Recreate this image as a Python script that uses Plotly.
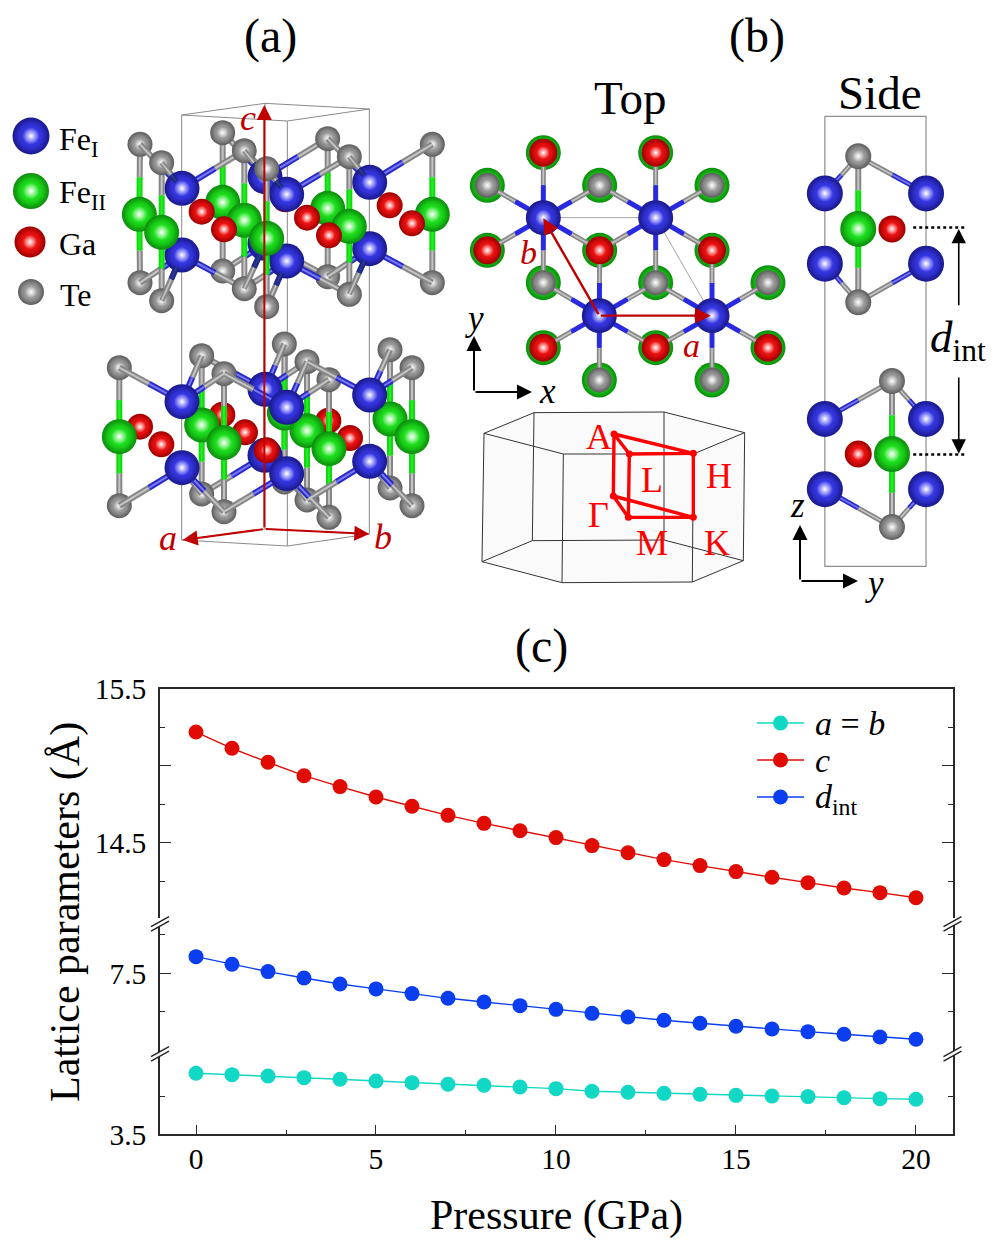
import plotly.graph_objects as go
from collections import defaultdict

W, H = 997, 1247
SERIF = "Liberation Serif"

# ---------- chart data ----------
pressure = list(range(21))
c_param = [15.22, 15.114, 15.023, 14.936, 14.865, 14.797, 14.737, 14.678, 14.626, 14.578, 14.533,
           14.481, 14.435, 14.39, 14.351, 14.312, 14.275, 14.24, 14.205, 14.175, 14.142]
d_int = [7.716, 7.617, 7.522, 7.439, 7.361, 7.297, 7.236, 7.175, 7.128, 7.08, 7.032,
         6.98, 6.933, 6.89, 6.851, 6.812, 6.777, 6.742, 6.708, 6.673, 6.643]
a_param = [4.303, 4.285, 4.268, 4.246, 4.224, 4.202, 4.18, 4.158, 4.145, 4.123, 4.101,
           4.066, 4.053, 4.039, 4.026, 4.013, 4.004, 3.996, 3.982, 3.969, 3.961]

# ---------- panel (a) structure, positions read in a 3x crop ----------
up_te_top = [(420,163),(668,128),(983,146),(1297,163),(485,218),(733,182),(1048,200),(800,236)]
up_te_bot = [(420,578),(668,543),(983,560),(1297,578),(485,632),(733,596),(1048,613),(800,650)]
up_fe2 = [(418,373),(668,337),(983,355),(1297,373),(485,427),(733,391),(1048,409),(800,445)]
up_fe1_top = [(795,260),(546,295),(860,313),(1109,277)]
up_fe1_bot = [(795,460),(546,495),(860,513),(1109,476)]
up_ga_back = [(855,328),(605,365),(921,383),(1169,346)]
up_ga_front = [(672,418),(987,436),(1236,400)]

lo_te_top = [(853,762),(358,833),(605,797),(921,815),(1170,779),(672,851),(987,869),(1236,833)]
lo_te_bot = [(853,1176),(358,1247),(605,1212),(921,1230),(1170,1194),(672,1265),(987,1282),(1236,1247)]
lo_fe2 = [(853,969),(358,1040),(605,1005),(921,1022),(1170,987),(672,1058),(987,1076),(1236,1040)]
lo_fe1_top = [(795,898),(546,935),(860,952),(1109,915)]
lo_fe1_bot = [(795,1096),(546,1133),(860,1151),(1109,1114)]
lo_ga_back = [(420,1010),(667,974),(985,992)]
lo_ga_front = [(484,1063),(735,1027),(1050,1044),(800,1081)]

cell_top = [(545,75),(795,40),(1108,57),(862,93)]
cell_bot = [(545,1350),(795,1317),(1108,1332),(862,1368)]

# ---------- panel (b) top view ----------
top_fe = [(280,443),(617,443),(448,737),(786,737)]
top_ga = [(280,248),(617,248),(112,541),(449,541),(786,541),(280,833),(617,833),(954,833)]
top_te = [(112,346),(449,346),(786,346),(280,638),(617,638),(954,638),(448,930),(786,930)]

# ---------- panel (b) side view ----------
side_fe = [(133,365),(433,365),(133,573),(433,573),(133,1032),(433,1032),(133,1240),(433,1240)]
side_fe2 = [(232,470),(332,1136)]
side_ga = [(332,470),(232,1136)]
side_te = [(232,255),(232,687),(332,920),(332,1352)]

# ---------- Brillouin zone ----------
bz_top = [(72,100),(222,38),(612,36),(854,98),(700,162),(310,162)]
bz_bot = [(66,485),(217,422),(612,420),(850,482),(697,546),(306,548)]
bz_pts = {"A":(462,102),"L":(508,162),"H":(700,160),"K":(700,352),"M":(505,352),"G":(460,288)}
bz_path = ["A","L","H","A","G","M","K","G"]
bz_path2 = [("K","H"),("L","M")]

# ---------- helpers ----------
def pa(p): return (p[0]/3, 90+p[1]/3)
def pt(p): return (450+p[0]/3, 70+p[1]/3)
def pz(p): return (460+p[0]/3, 400+p[1]/3)
def ps(p): return (780+p[0]/2.965, 70+p[1]/2.958)

SPH = {
 "fe1": ("#1a1a90", "#3a3aee"),
 "fe2": ("#0c900c", "#1fe81f"),
 "ga":  ("#a00000", "#f41414"),
 "te":  ("#606060", "#a2a2a2"),
}
SIZE = {"fe1":35, "fe2":35, "ga":26, "te":25}
GRAY=("#868686","#c4c4c4"); BLUE=("#2a2ac8","#7a7af0"); GREEN=("#12d812","#22ee22"); DARK=("#1c2a78","#2c3a98")

levels = defaultdict(lambda: {"lines":defaultdict(lambda: ([],[])), "atoms":defaultdict(list)})

def seg(level, p, q, pair, w=6):
    lv = levels[level]["lines"]
    for key in ((pair[0], w), (pair[1], max(1.6,w/3))):
        lv[key][0].extend([p[0],q[0],None])
        lv[key][1].extend([p[1],q[1],None])

def bond(level, te, fe, pair, frac=0.47, w=6):
    mx, my = te[0]+(fe[0]-te[0])*frac, te[1]+(fe[1]-te[1])*frac
    seg(level, te, (mx,my), GRAY, w)
    seg(level, (mx,my), fe, pair, w)

def atoms(level, kind, pts, size=None):
    s = size or SIZE[kind]
    levels[level]["atoms"][(kind,s)].extend(pts)

def connect(level, fes, tes, offsets, conv, tol=15):
    for f in fes:
        for t in tes:
            d=(t[0]-f[0], t[1]-f[1])
            if any(abs(d[0]-o[0])<tol and abs(d[1]-o[1])<tol for o in offsets):
                bond(level, conv(t), conv(f), BLUE)

def stub(level, fes, tes, off, conv, reach=0.74, tol=15):
    for f in fes:
        for t in tes:
            if abs(t[0]-f[0]-off[0])<tol and abs(t[1]-f[1]-off[1])<tol:
                T=conv(t); F=conv(f)
                m=(T[0]+(F[0]-T[0])*0.47, T[1]+(F[1]-T[1])*0.47)
                e=(T[0]+(F[0]-T[0])*reach, T[1]+(F[1]-T[1])*reach)
                seg(level,T,m,GRAY,5); seg(level,m,e,DARK,5)

def column(level, xs, te_a, te_b, fe2, conv):
    for xval in xs:
        t=[p for p in te_a if abs(p[0]-xval)<5][0]
        b=[p for p in te_b if abs(p[0]-xval)<5][0]
        g=[p for p in fe2 if abs(p[0]-xval)<5][0]
        bond(level, conv(t), conv(g), GREEN, 0.47, 6)
        bond(level, conv(b), conv(g), GREEN, 0.47, 6)
        atoms(level+0.1,"fe2",[conv(g)])
        atoms(level+0.1,"te",[conv(t),conv(b)])

# --- panel (a) upper block ---
U_TOP=[(-126,-132),(-61,-77),(187,-113)]
U_BOT=[(-126,83),(-61,137),(187,101)]
atoms(1.0,"ga",[pa(up_ga_back[0])])
connect(0.9,up_fe1_top[:1],up_te_top,U_TOP,pa); connect(0.9,up_fe1_bot[:1],up_te_bot,U_BOT,pa)
atoms(1.2,"fe1",[pa(up_fe1_top[0]),pa(up_fe1_bot[0])])
column(2,[418,668,983,1297],up_te_top,up_te_bot,up_fe2,pa)
atoms(3,"ga",[pa(p) for p in up_ga_back[1:]])
connect(3.5,up_fe1_top[1:],up_te_top,U_TOP,pa); connect(3.5,up_fe1_bot[1:],up_te_bot,U_BOT,pa)
atoms(4,"fe1",[pa(p) for p in up_fe1_top[1:]+up_fe1_bot[1:]])
column(5,[485,733,1048],up_te_top,up_te_bot,up_fe2,pa)
atoms(6,"ga",[pa(p) for p in up_ga_front])
stub(6.5,up_fe1_top,up_te_top,(-61,-77),pa)
stub(6.5,up_fe1_bot,up_te_bot,(-61,137),pa)
column(7,[800],up_te_top,up_te_bot,up_fe2,pa)

# --- panel (a) lower block ---
L_TOP=[(-188,-102),(59,-138),(126,-84)]
L_BOT=[(-188,114),(59,79),(126,132)]
column(10,[853],lo_te_top,lo_te_bot,lo_fe2,pa)
connect(10.5,lo_fe1_top[:1],lo_te_top,L_TOP,pa); connect(10.5,lo_fe1_bot[:1],lo_te_bot,L_BOT,pa)
atoms(10.7,"fe1",[pa(lo_fe1_top[0]),pa(lo_fe1_bot[0])])
atoms(11,"ga",[pa(p) for p in lo_ga_back])
atoms(11.2,"ga",[pa(p) for p in lo_ga_front])
column(12,[358,605,921,1170],lo_te_top,lo_te_bot,lo_fe2,pa)
column(13,[672,987,1236],lo_te_top,lo_te_bot,lo_fe2,pa)
connect(14,lo_fe1_top[1:],lo_te_top,L_TOP,pa); connect(14,lo_fe1_bot[1:],lo_te_bot,L_BOT,pa)
atoms(15,"fe1",[pa(p) for p in lo_fe1_top[1:]+lo_fe1_bot[1:]])

# --- panel (b) top view ---
atoms(20,"fe2",[pt(p) for p in top_ga+top_te])
for f in top_fe:
    for t in top_ga+top_te:
        d=((t[0]-f[0])**2+(t[1]-f[1])**2)**0.5
        if 170<d<215:
            bond(21,pt(t),pt(f),("#2a2ae0","#2a2ae0"),0.5,5)
atoms(22,"ga",[pt(p) for p in top_ga],28)
atoms(22,"te",[pt(p) for p in top_te],25)
atoms(23,"fe1",[pt(p) for p in top_fe])

# --- panel (b) side view ---
bond(30,ps(side_te[0]),ps(side_fe2[0]),GREEN,0.47); bond(30,ps(side_te[1]),ps(side_fe2[0]),GREEN,0.47)
bond(30,ps(side_te[2]),ps(side_fe2[1]),GREEN,0.47); bond(30,ps(side_te[3]),ps(side_fe2[1]),GREEN,0.47)
for ti,fis in [(0,(0,1)),(1,(2,3)),(2,(4,5)),(3,(6,7))]:
    for fi in fis:
        bond(30,ps(side_te[ti]),ps(side_fe[fi]),BLUE,0.5,5)
atoms(31,"fe1",[ps(p) for p in side_fe],36)
atoms(31,"fe2",[ps(p) for p in side_fe2],36)
atoms(31,"ga",[ps(p) for p in side_ga],27)
atoms(31,"te",[ps(p) for p in side_te],26)

# --- legend of atoms ---
atoms(40,"fe1",[(31,136)],37); atoms(40,"fe2",[(31,191)],36); atoms(40,"ga",[(30,242)],31); atoms(40,"te",[(31,292)],26)

# ---------- figure ----------
fig = go.Figure()
X_DOM=[160/W,952.7/W]
def yd(t,b): return [1-b/H,1-t/H]

def ov_line(xs,ys,color,width,dash=None,fill=None,fillcolor=None,name=None):
    fig.add_trace(go.Scatter(x=xs,y=ys,mode="lines",line=dict(color=color,width=width,dash=dash,simplify=False),
        xaxis="x4",yaxis="y4",hoverinfo="skip",showlegend=False,fill=fill,fillcolor=fillcolor,name=name))

# chart traces
for ya,xa,vals,col,nm in [("y","x",c_param,"#e00c04","c"),("y2","x2",d_int,"#0a3ef0","d_int"),("y3","x3",a_param,"#10d8c4","a = b")]:
    fig.add_trace(go.Scatter(x=pressure,y=vals,mode="lines+markers",name=nm,showlegend=False,xaxis=xa,yaxis=ya,
        line=dict(color=col,width=1.4),marker=dict(color=col,size=15,line=dict(width=0))))

# cell of panel (a)
ct=[pa(p) for p in cell_top]; cb=[pa(p) for p in cell_bot]
cx=[];cy=[]
for loop in (ct,cb):
    for p in loop+[loop[0]]:
        cx.append(p[0]);cy.append(p[1])
    cx.append(None);cy.append(None)
for a,b in zip(ct,cb):
    cx+= [a[0],b[0],None]; cy+=[a[1],b[1],None]
ov_line(cx,cy,"#8a8a8a",1)

# BZ
zt=[pz(p) for p in bz_top]; zb=[pz(p) for p in bz_bot]
outer=[zt[0],zt[1],zt[2],zt[3],zb[3],zb[4],zb[5],zb[0],zt[0]]
ov_line([p[0] for p in outer],[p[1] for p in outer],"rgba(0,0,0,0)",0,fill="toself",fillcolor="#fafafa")
zx=[];zy=[]
for loop in (zt,zb):
    for p in loop+[loop[0]]:
        zx.append(p[0]);zy.append(p[1])
    zx.append(None);zy.append(None)
for a,b in zip(zt,zb):
    zx+=[a[0],b[0],None];zy+=[a[1],b[1],None]
ov_line(zx,zy,"#333333",1)
rx=[pz(bz_pts[k])[0] for k in bz_path]; ry=[pz(bz_pts[k])[1] for k in bz_path]
for a,b in bz_path2:
    rx+=[None,pz(bz_pts[a])[0],pz(bz_pts[b])[0]]; ry+=[None,pz(bz_pts[a])[1],pz(bz_pts[b])[1]]
ov_line(rx,ry,"#ff0000",3.4)
fig.add_trace(go.Scatter(x=[pz(v)[0] for v in bz_pts.values()],y=[pz(v)[1] for v in bz_pts.values()],mode="markers",
    marker=dict(color="#ff0000",size=7),xaxis="x4",yaxis="y4",hoverinfo="skip",showlegend=False))

# side cell rectangle
sc=[ps(p) for p in [(133,137),(433,137),(433,1468),(133,1468),(133,137)]]
ov_line([p[0] for p in sc],[p[1] for p in sc],"#8e8e8e",1.2)
# top view cell
tc=[pt(p) for p in [(280,443),(617,443),(786,737)]]
ov_line([p[0] for p in tc],[p[1] for p in tc],"#8e8e8e",0.8)

# atoms and bonds
def rgba0(h): return f"rgba({int(h[1:3],16)},{int(h[3:5],16)},{int(h[5:7],16)},0)"
for lv in sorted(levels):
    for (col,w),(xs,ys) in levels[lv]["lines"].items():
        ov_line(xs,ys,col,w)
    for (kind,s),pts in levels[lv]["atoms"].items():
        edge,mid=SPH[kind]
        X=[p[0] for p in pts];Y=[p[1] for p in pts]
        for size,c,g in [(s,edge,mid),(s*0.94,rgba0(mid),mid),(s*0.8,rgba0(mid),mid),(s*0.46,"rgba(255,255,255,0)","#ffffff")]:
            fig.add_trace(go.Scatter(x=X,y=Y,mode="markers",xaxis="x4",yaxis="y4",hoverinfo="skip",showlegend=False,
                marker=dict(size=size,color=c,gradient=dict(type="radial",color=g),line=dict(width=0))))

# dotted lines in side view
for yy in (466,1137):
    a=ps((395,yy));b=ps((555,yy))
    ov_line([a[0],b[0]],[a[1],b[1]],"#000000",2.5,dash="3px,3px")

# chart legend drawn inside the plot
leg_y=[723,760,797]; leg_col=["#10d8c4","#e00c04","#0a3ef0"]
for yy,col in zip(leg_y,leg_col):
    ov_line([757,804],[yy,yy],col,1.4)
    fig.add_trace(go.Scatter(x=[780.5],y=[yy],mode="markers",marker=dict(color=col,size=15),xaxis="x4",yaxis="y4",hoverinfo="skip",showlegend=False))

# axis breaks
for bx0,bx1 in [(151,169),(943.5,961.5)]:
    for yb in (926.7,1056.7):
        ov_line([bx0,bx1],[yb+2.2,yb-7.8],"#ffffff",4)
        ov_line([bx0,bx1],[yb,yb-10],"#222222",1.4)
        ov_line([bx0,bx1],[yb+4.4,yb-5.6],"#222222",1.4)

ann=[]
def text(x,y,t,size,color="#000000",anchor="center",angle=0,ya="middle"):
    ann.append(dict(x=x,y=y,xref="x4",yref="y4",text=t,showarrow=False,xanchor=anchor,yanchor=ya,textangle=angle,
                    font=dict(family=SERIF,size=size,color=color)))
def arrow(p,q,color,w=2,hs=1.5):
    ann.append(dict(x=q[0],y=q[1],ax=p[0],ay=p[1],xref="x4",yref="y4",axref="x4",ayref="y4",text="",showarrow=True,
                    arrowhead=2,arrowsize=hs,arrowwidth=w,arrowcolor=color,standoff=0,startstandoff=0))
DR="#c00000"
text(270,36,"(a)",48); text(757,36,"(b)",48); text(541,646,"(c)",48)
text(630,98,"Top",47); text(880,93,"Side",47)
text(57,141,"Fe<sub>I</sub>",32,anchor="left"); text(57,194,"Fe<sub>II</sub>",32,anchor="left")
text(57,244,"Ga",32,anchor="left"); text(58,295,"Te",32,anchor="left")
# panel a arrows
o=pa((793,1317))
arrow(o,pa((793,45)),DR); arrow(o,pa((548,1350)),DR); arrow(o,pa((1108,1332)),DR)
text(248,118,"<i>c</i>",36,DR); text(168,538,"<i>a</i>",36,DR); text(383,537,"<i>b</i>",36,DR)
# top view arrows
o2=pt((448,737))
arrow(o2,pt((782,737)),DR,2.4,1.3); arrow(o2,pt((280,445)),DR,2.4,1.3)
text(528,252,"<i>b</i>",34,DR); text(691,345,"<i>a</i>",34,DR)
arrow((474,392),(474,336),"#000000"); arrow((474,392),(532,392),"#000000")
text(474,318,"<i>y</i>",35); text(547,391,"<i>x</i>",35)
# side view arrows
arrow(ps((530,700)),ps((530,470)),"#000000",1.6,1.8); arrow(ps((530,905)),ps((530,1135)),"#000000",1.6,1.8)
text(958,340,"<i>d</i><sub>int</sub>",45)
arrow((800,581),(800,525),"#000000"); arrow((800,581),(858,581),"#000000")
text(797,505,"<i>z</i>",35); text(874,583,"<i>y</i>",35)
# BZ labels
for lab,p in [("A",(418,110)),("L",(575,240)),("H",(778,228)),("Γ",(416,345)),("M",(575,428)),("K",(770,428))]:
    q=pz(p); text(q[0],q[1],lab,36,"#ff0000")
# chart labels
text(813,723,"<i>a</i> = <i>b</i>",34,anchor="left")
text(813,760,"<i>c</i>",34,anchor="left")
text(813,799,"<i>d</i><sub>int</sub>",34,anchor="left")
text(65,912,"Lattice parameters (Å)",42,angle=-90)
text(556,1215,"Pressure (GPa)",42)

AX="#2a2a2a"
TF=dict(family=SERIF,size=29.5,color="#000000")
COMMON=dict(ticks="inside",ticklen=11,tickwidth=1.3,tickcolor=AX,showline=True,linecolor=AX,linewidth=1.6,mirror="allticks",
            showgrid=False,zeroline=False,automargin=False,tickfont=TF,ticklabelstandoff=6)
def minor(vals): return dict(tickmode="array",tickvals=vals,ticks="inside",ticklen=5,tickwidth=1.3,tickcolor=AX,showgrid=False)
XR=[-1,21.02]
fig.update_layout(
    width=W,height=H,margin=dict(l=0,r=0,t=0,b=0,autoexpand=False),paper_bgcolor="#ffffff",plot_bgcolor="rgba(0,0,0,0)",showlegend=False,
    annotations=ann,
    xaxis=dict(domain=X_DOM,range=XR,anchor="y",side="top",showticklabels=False,ticks="",showline=True,linecolor=AX,linewidth=1.6,showgrid=False,zeroline=False,automargin=False),
    xaxis2=dict(domain=X_DOM,range=XR,anchor="y2",visible=False,automargin=False),
    xaxis3=dict(domain=X_DOM,range=XR,anchor="y3",tickmode="array",tickvals=[0,5,10,15,20],ticks="inside",ticklen=10,tickwidth=1.3,tickcolor=AX,
        showline=True,linecolor=AX,linewidth=1.6,showgrid=False,zeroline=False,tickfont=TF,ticklabelstandoff=-3,automargin=False,
        minor=minor([2.5,7.5,12.5,17.5])),
    yaxis=dict(domain=yd(689,918),range=[14.01,15.5],tickmode="linear",tick0=15.5,dtick=0.5,ticklabelstep=2,tickformat=".1f",minor=minor([15.25,14.75,14.25]),**COMMON),
    yaxis2=dict(domain=yd(923,1054),range=[6.452,8.153],tickmode="array",tickvals=[7.5],ticktext=["7.5"],minor=minor([8.0,7.0]),**COMMON),
    yaxis3=dict(domain=yd(1054,1134.3),range=[3.5,4.557],tickmode="array",tickvals=[3.5],ticktext=["3.5"],minor=minor([4.0]),**COMMON),
    xaxis4=dict(domain=[0,1],range=[0,W],anchor="y4",visible=False,automargin=False),
    yaxis4=dict(domain=[0,1],range=[H,0],anchor="x4",visible=False,automargin=False),
)
fig.write_html("out.html",config=dict(displayModeBar=False),post_script="document.body.style.margin='0';document.documentElement.style.overflow='hidden';")
